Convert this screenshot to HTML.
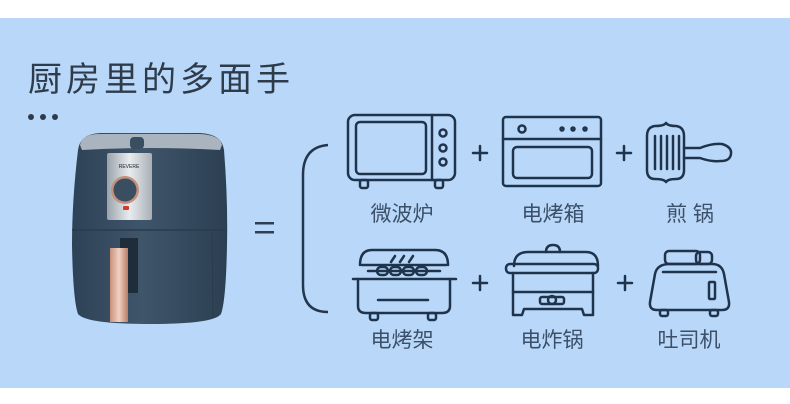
<!DOCTYPE html>
<html><head><meta charset="utf-8"><style>
html,body{margin:0;padding:0;background:#fff;}
svg{display:block;}
text{font-family:"Liberation Sans","Noto Sans CJK SC",sans-serif;}
</style></head><body>
<svg width="790" height="404" viewBox="0 0 790 404" xmlns="http://www.w3.org/2000/svg">
<defs>
<linearGradient id="bd" x1="0" x2="1"><stop offset="0" stop-color="#2e4257"/><stop offset="0.45" stop-color="#3f5569"/><stop offset="1" stop-color="#2c3f53"/></linearGradient>
<linearGradient id="rg" x1="0" x2="1"><stop offset="0" stop-color="#c98f78"/><stop offset="0.5" stop-color="#f0d2c4"/><stop offset="1" stop-color="#b97d66"/></linearGradient>
<linearGradient id="pn" x1="0" x2="1"><stop offset="0" stop-color="#9aa3ab"/><stop offset="0.5" stop-color="#e8ecef"/><stop offset="1" stop-color="#a8b0b7"/></linearGradient>
</defs>
<rect x="0" y="18" width="790" height="370" fill="#b9d8f9"/>
<text x="28" y="91" font-size="34" fill="#2d3b4b" letter-spacing="4">厨房里的多面手</text>
<circle cx="31" cy="117" r="3" fill="#2d3b4b"/><circle cx="43" cy="117" r="3" fill="#2d3b4b"/><circle cx="55" cy="117" r="3" fill="#2d3b4b"/>
<!-- air fryer -->
<path d="M78 150 Q80 134 100 133 L200 133 Q222 134 224 150 Q228 200 227 245 Q226 300 221 314 Q214 324 150 324 Q86 324 78 314 Q73 300 72 245 Q72 200 78 150Z" fill="url(#bd)"/>
<path d="M80 145 Q82 134 100 134 L200 134 Q220 135 222 145 L220 150 Q150 146 82 150Z" fill="#a9b4bf"/>
<rect x="107" y="153" width="45" height="67" rx="2" fill="url(#pn)"/>
<circle cx="125" cy="190" r="14" fill="#c4907c"/><circle cx="125" cy="190" r="11.5" fill="#3a4e62"/>
<rect x="123" y="206" width="6" height="4" rx="1" fill="#d23a2a"/>
<text x="129" y="168" font-size="5" fill="#222" text-anchor="middle">REVERE</text>
<rect x="130" y="137" width="14" height="12" rx="4" fill="#3a4e62"/>
<path d="M72 230 L227 230" stroke="#2a3b4d" stroke-width="1.5"/>
<path d="M212 233 L213 318" stroke="#2a3b4d" stroke-width="1"/>
<rect x="120" y="238" width="18" height="55" fill="#1f2d3b"/>
<rect x="110" y="248" width="18" height="74" fill="url(#rg)"/>
<!-- equals -->
<rect x="255" y="222" width="19" height="2.5" fill="#2d3e55"/><rect x="255" y="231" width="19" height="2.5" fill="#2d3e55"/>
<!-- bracket -->
<path d="M328 145 Q303 147 303 175 L303 285 Q303 312 328 312" fill="none" stroke="#23364d" stroke-width="2.5"/>
<g fill="none" stroke="#1f344c" stroke-width="2.5" stroke-linecap="round" stroke-linejoin="round">
<!-- microwave -->
<rect x="348" y="115" width="107" height="65" rx="7"/>
<rect x="356" y="122" width="70" height="52" rx="4"/>
<line x1="432" y1="115" x2="432" y2="180"/>
<circle cx="443" cy="133" r="3.5"/><circle cx="443" cy="148" r="3.5"/><circle cx="443" cy="162" r="3.5"/>
<rect x="360" y="180" width="8" height="8" rx="2"/><rect x="435" y="180" width="8" height="8" rx="2"/>
<!-- oven -->
<rect x="503" y="117" width="98" height="69" rx="3"/>
<line x1="503" y1="139" x2="601" y2="139"/>
<circle cx="522" cy="129" r="3.5"/>
<circle cx="562" cy="129" r="1.5"/><circle cx="573" cy="129" r="1.5"/><circle cx="585" cy="129" r="1.5"/>
<rect x="513" y="147" width="79" height="31" rx="4"/>
<!-- pan -->
<path d="M655 126 Q664 126 666 123 Q668 126 676 126 Q684 127 684 136 L684 170 Q684 179 676 179 Q668 179 666 182 Q664 179 655 179 Q647 179 647 170 L647 136 Q647 127 655 126Z"/>
<line x1="655" y1="136" x2="655" y2="169"/><line x1="661" y1="136" x2="661" y2="169"/><line x1="667" y1="136" x2="667" y2="169"/><line x1="673" y1="136" x2="673" y2="169"/><line x1="679" y1="136" x2="679" y2="169"/>
<path d="M684 148 L700 148 Q712 143 722 144 Q732 147 731 154 Q730 161 721 161 Q711 162 700 158 L684 158"/>
<!-- grill -->
<path d="M360 265 Q360 250 372 250 L435 250 Q448 250 448 265"/>
<line x1="353" y1="279" x2="456" y2="279"/>
<path d="M358 279 L358 306 Q358 313 366 313 L442 313 Q450 313 450 306 L450 279"/>
<path d="M362 265 L446 265"/>
<line x1="378" y1="300" x2="428" y2="300"/>
<rect x="370" y="313" width="8" height="7" rx="2"/><rect x="428" y="313" width="8" height="7" rx="2"/>
<line x1="368" y1="271" x2="440" y2="271"/>
<rect x="377" y="267" width="11" height="8" rx="4"/><rect x="390" y="267" width="11" height="8" rx="4"/><rect x="403" y="267" width="11" height="8" rx="4"/><rect x="416" y="267" width="11" height="8" rx="4"/>
<line x1="391" y1="262" x2="395" y2="256"/><line x1="400" y1="262" x2="404" y2="256"/><line x1="409" y1="262" x2="413" y2="256"/>
<!-- fryer -->
<path d="M514 266 Q514 252 528 252 L586 252 Q598 252 598 266"/>
<path d="M546 252 Q546 245 553 245 Q560 245 560 252"/>
<rect x="506" y="264" width="92" height="9" rx="4"/>
<path d="M513 273 L513 315 L522 315 L524 309 L582 309 L584 315 L593 315 L593 273"/>
<line x1="513" y1="292" x2="593" y2="292"/>
<rect x="540" y="297" width="24" height="7" rx="2"/><circle cx="552" cy="300" r="4"/>
<!-- toaster -->
<rect x="665" y="251" width="35" height="13" rx="4"/><rect x="696" y="252" width="16" height="12" rx="4"/>
<path d="M670 264 L712 264 Q722 264 724 274 L729 302 Q730 310 722 310 L657 310 Q649 310 650 302 L655 274 Q657 264 670 264Z"/>
<line x1="663" y1="272" x2="716" y2="272"/>
<rect x="709" y="282" width="6" height="17" rx="1"/>
<rect x="660" y="310" width="8" height="6" rx="2"/><rect x="710" y="310" width="8" height="6" rx="2"/>
<!-- pluses -->
<path d="M473 153 L487 153 M480 146 L480 160"/>
<path d="M617 153 L631 153 M624 146 L624 160"/>
<path d="M473 283 L487 283 M480 276 L480 290"/>
<path d="M618 283 L632 283 M625 276 L625 290"/>
</g>
<g font-size="21" fill="#3b4f68" text-anchor="middle">
<text x="402" y="221">微波炉</text>
<text x="553" y="221">电烤箱</text>
<text x="690" y="221" xml:space="preserve">煎 锅</text>
<text x="402" y="347">电烤架</text>
<text x="552" y="347">电炸锅</text>
<text x="689" y="347">吐司机</text>
</g>
</svg>
</body></html>
